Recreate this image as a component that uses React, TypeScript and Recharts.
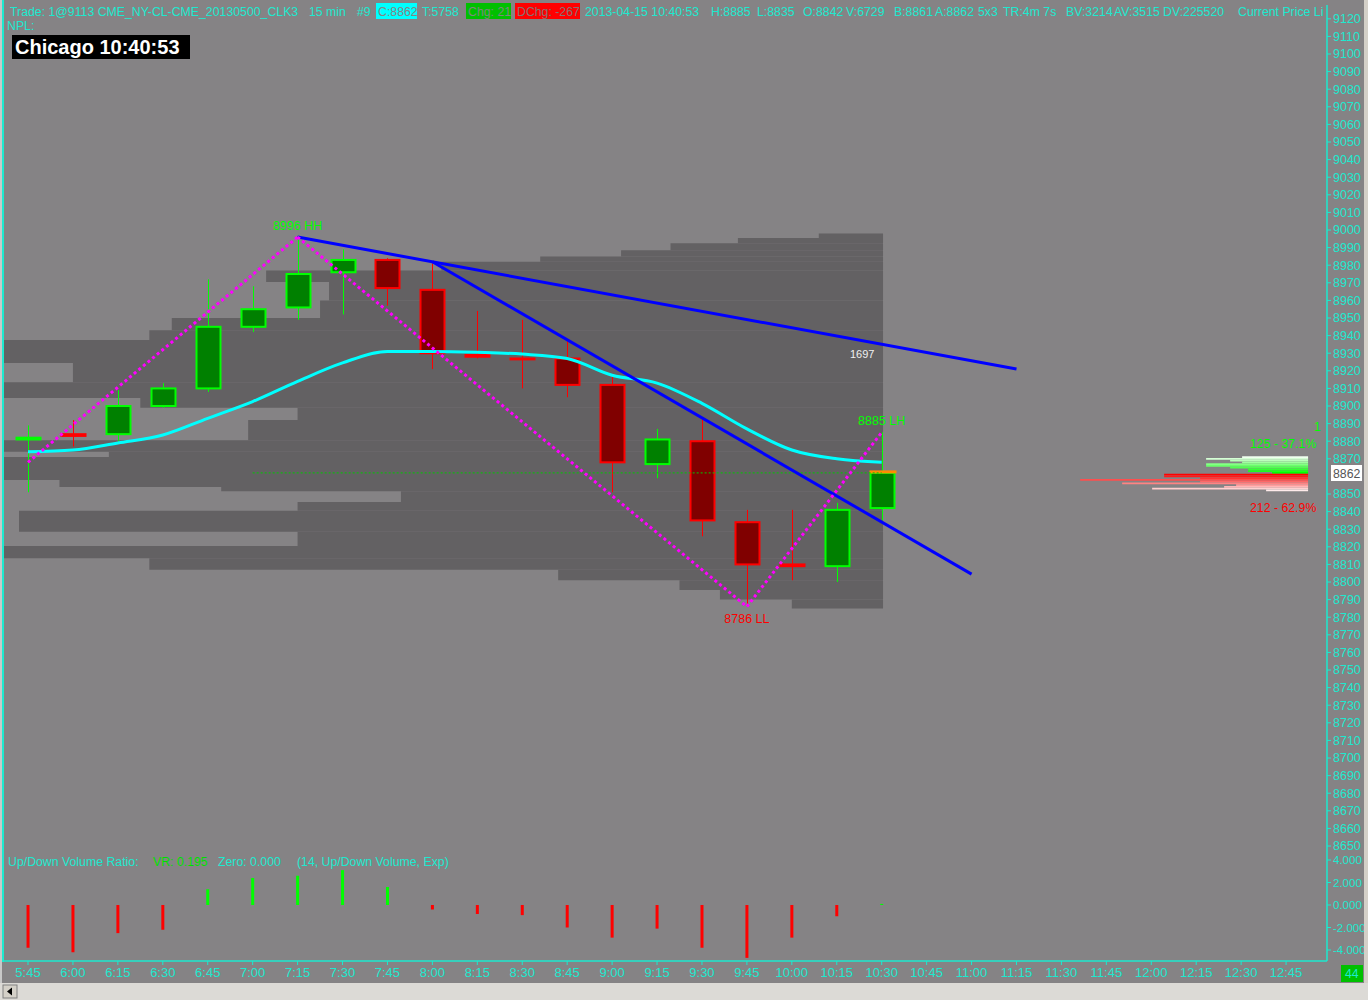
import React from 'react';
import {
  ComposedChart, Bar, Line, XAxis, YAxis, ReferenceArea, ReferenceLine, ReferenceDot, Cell,
} from 'recharts';

// 15 minute bars, CL crude, 2013-04-15
const times = ['5:45', '6:00', '6:15', '6:30', '6:45', '7:00', '7:15', '7:30', '7:45', '8:00',
  '8:15', '8:30', '8:45', '9:00', '9:15', '9:30', '9:45', '10:00', '10:15', '10:30'];
const axisTimes = [...times, '10:45', '11:00', '11:15', '11:30', '11:45', '12:00', '12:15', '12:30', '12:45'];

const opens = [8881, 8884, 8884, 8900, 8910, 8945, 8956, 8976, 8983, 8966,
  8929, 8927, 8927, 8912, 8867, 8880, 8834, 8810, 8809, 8842];
const highs = [8889, 8892, 8909, 8913, 8972, 8968, 8996, 8989, 8984, 8981,
  8954, 8949, 8937, 8917, 8887, 8893, 8841, 8841, 8845, 8885];
const lows = [8851, 8877, 8880, 8899, 8908, 8942, 8949, 8952, 8957, 8921,
  8927, 8910, 8905, 8851, 8859, 8826, 8786, 8801, 8800, 8835];
const closes = [8882, 8883, 8900, 8910, 8945, 8955, 8975, 8983, 8967, 8930,
  8928, 8926.5, 8912, 8868, 8881, 8835, 8810, 8809, 8841, 8862];

// exp. moving average
const maValues = [8874, 8875, 8879, 8883.5, 8893, 8902.5, 8914, 8924.5, 8931, 8931,
  8930.5, 8929.5, 8927, 8917.5, 8913, 8901.5, 8887, 8875, 8870, 8868];

// up/down volume ratio
const vrValues = [-3.8, -4.2, -2.5, -2.2, 1.4, 2.4, 2.6, 3.1, 1.6, -0.4,
  -0.8, -0.9, -2.0, -2.9, -2.1, -3.8, -4.7, -2.9, -1.0, 0.1];

// swing points (bar index, price)
const zigzagIdx = [0, 6, 16, 19];
const zigzagPrice = [8868, 8996, 8786, 8885];
const swingTags = ['', 'HH', 'LL', 'LH'];

// trend lines: start / end (bar index, price)
const trendStart = [[6, 8996], [9, 8982]];
const trendEnd = [[22, 8921], [21, 8804.5]];

// volume profile: band tops (price), band left start (bar index)
const profileTop = [8998, 8995.5, 8992.5, 8988.5, 8985, 8982, 8977, 8970.5, 8960, 8950,
  8943, 8937.5, 8924.5, 8913.5, 8904.5, 8899, 8892, 8880.5, 8874, 8871,
  8858, 8854, 8851.5, 8845.5, 8840.5, 8828.5, 8820.5, 8813.5, 8807, 8801, 8795.5, 8790];
const profileLeft = [17.6, 15.8, 14.3, 13.2, 11.4, 9.2, 5.3, 6.7, 6.5, 3.2,
  2.7, -0.55, 1.0, -0.55, 2.5, 6.0, 4.9, -0.55, 1.8, -0.55,
  0.7, 4.3, 8.3, 6.0, -0.2, 6.0, -0.55, 2.7, 11.8, 14.5, 15.4, 17.0];
const profileBottom = 8785;

// bid / ask volume at price
const askLevels = [8871, 8870, 8869, 8868, 8867, 8866, 8865, 8864, 8863, 8862];
const askVol = [11, 17, 13, 11, 17, 17, 13, 10, 10, 6];
const bidLevels = [8861, 8860, 8859, 8858, 8857, 8856, 8855, 8854, 8853, 8852];
const bidVol = [24, 24, 18, 38, 18, 31, 12, 14, 26, 7];

const vrTicks = [-4, -2, 0, 2, 4];

const candles = times.map((t, i) => ({
  i, t, open: opens[i], high: highs[i], low: lows[i], close: closes[i], ma: maValues[i],
}));
const vrData = times.map((t, i) => ({ i, t, vr: vrValues[i] }));

const X_MIN = -0.5564;
const X_MAX = 28.911;
const CYAN = '#1de9cf';
const FONT = "'Liberation Sans', Arial, sans-serif";
const FS = 12.3;
const LAST = candles.length - 1;
const PROFILE_RIGHT = 19.03;
const HIST_RIGHT = 28.49;
const HIST_SCALE = 0.1335; // bar index per contract

// the last-price box covers the tick next to it
const priceTicks: number[] = [];
for (let p = 8650; p <= 9120; p += 10) {
  if (Math.abs(p - closes[LAST]) > 5) priceTicks.push(p);
}

const Candle = (props: any) => {
  const { x, y, width, height, payload } = props;
  if (x == null || y == null) return null;
  const cx = Math.round(x + width / 2) + 0.5;
  const top = Math.min(y, y + height);
  const bot = Math.max(y, y + height);
  const { open, close, high, low, i } = payload;
  const span = high - low || 1;
  const py = (p: number) => top + ((high - p) / span) * (bot - top);
  const up = close >= open;
  const stroke = up ? '#00ff00' : '#ff0000';
  const fill = up ? '#008000' : '#800000';
  const bTop = py(Math.max(open, close));
  const bBot = py(Math.min(open, close));
  return (
    <g>
      <line x1={cx} x2={cx} y1={top} y2={bot} stroke={stroke} strokeWidth={1} />
      <rect x={cx - 12} y={bTop} width={24} height={Math.max(bBot - bTop, 0.5)}
        fill={fill} stroke={stroke} strokeWidth={2} />
      {i === LAST && (
        <line x1={cx - 13} x2={cx + 14} y1={bTop - 1} y2={bTop - 1} stroke="#ff8c00" strokeWidth={3} />
      )}
    </g>
  );
};

const rampGreen = (k: number, n: number) => {
  const v = Math.round(240 * (1 - k / (n - 1)));
  return `rgb(${v},255,${v})`;
};
const rampRed = (k: number, n: number) => {
  const v = Math.round(235 * (k / (n - 1)));
  return `rgb(255,${v},${v})`;
};

const T = ({ x, y, c = CYAN, s = FS, children, w = 'normal' }: any) => (
  <text x={x} y={y} fill={c} fontSize={s} fontFamily={FONT} fontWeight={w} style={{ whiteSpace: 'pre' }}>
    {children}
  </text>
);

export default function App() {
  const zigSegments = zigzagIdx.slice(1).map((_, k) => [
    { x: zigzagIdx[k], y: zigzagPrice[k] },
    { x: zigzagIdx[k + 1], y: zigzagPrice[k + 1] },
  ]);
  const lastClose = closes[LAST];

  return (
    <div style={{ position: 'absolute', left: 0, top: 0, width: 1368, height: 1000, background: '#858385', overflow: 'hidden' }}>
      <div style={{ position: 'absolute', left: 0, top: 0 }}>
        <ComposedChart width={1368} height={855} data={candles} margin={{ top: 5, right: 0, left: 3, bottom: 0 }}>
          <XAxis type="number" dataKey="i" domain={[X_MIN, X_MAX]} allowDataOverflow hide />
          <YAxis
            orientation="right" width={41} type="number" domain={[8644.9, 9127.84]} allowDataOverflow
            ticks={priceTicks} interval={0} tickSize={4} tickMargin={2}
            axisLine={{ stroke: CYAN, strokeWidth: 1.5 }} tickLine={{ stroke: CYAN }}
            tick={{ fill: CYAN, fontSize: 12.5, fontFamily: FONT, textAnchor: 'start' }}
          />
          {profileTop.map((top, k) => (
            <ReferenceArea key={`pf${k}`} x1={profileLeft[k]} x2={PROFILE_RIGHT}
              y1={k + 1 < profileTop.length ? profileTop[k + 1] : profileBottom} y2={top}
              fill="#636163" fillOpacity={1} stroke="none" ifOverflow="visible" />
          ))}
          {askLevels.map((p, k) => (
            <ReferenceArea key={`ask${k}`} x1={HIST_RIGHT - askVol[k] * HIST_SCALE} x2={HIST_RIGHT}
              y1={p - 0.5} y2={p + 0.5} fill={rampGreen(k, askLevels.length)} fillOpacity={1} stroke="none" ifOverflow="visible" />
          ))}
          {bidLevels.map((p, k) => (
            <ReferenceArea key={`bid${k}`} x1={HIST_RIGHT - bidVol[k] * HIST_SCALE} x2={HIST_RIGHT}
              y1={p - 0.5} y2={p + 0.5} fill={rampRed(k, bidLevels.length)} fillOpacity={1} stroke="none" ifOverflow="visible" />
          ))}
          <ReferenceLine segment={[{ x: 5, y: lastClose }, { x: 19, y: lastClose }]}
            stroke="#00c800" strokeDasharray="2 2" strokeWidth={1} ifOverflow="visible" />
          <Bar dataKey={(d: any) => [d.low, d.high]} barSize={27} shape={<Candle />} isAnimationActive={false} />
          <Line dataKey="ma" type="monotone" stroke="#00ffff" strokeWidth={3} dot={false} isAnimationActive={false} />
          {trendStart.map((s, k) => (
            <ReferenceLine key={`tl${k}`} segment={[{ x: s[0], y: s[1] }, { x: trendEnd[k][0], y: trendEnd[k][1] }]}
              stroke="#0000ff" strokeWidth={3} ifOverflow="visible" />
          ))}
          {zigSegments.map((seg, k) => (
            <ReferenceLine key={`zz${k}`} segment={seg} stroke="#ff00ff" strokeWidth={3}
              strokeDasharray="3 3" ifOverflow="visible" />
          ))}
          {zigzagIdx.slice(1).map((ix, k) => (
            <ReferenceDot key={`sw${k}`} x={ix} y={zigzagPrice[k + 1]} r={0} fill="none" stroke="none" ifOverflow="visible"
              label={{
                value: `${zigzagPrice[k + 1]} ${swingTags[k + 1]}`,
                position: swingTags[k + 1] === 'LL' ? 'bottom' : 'top',
                fill: swingTags[k + 1] === 'LL' ? '#ff0000' : '#00ff00',
                fontSize: 12.5, fontFamily: FONT, offset: 7,
              }} />
          ))}
        </ComposedChart>
      </div>

      <div style={{ position: 'absolute', left: 0, top: 855 }}>
        <ComposedChart width={1368} height={128} data={vrData} margin={{ top: 0, right: 0, left: 3, bottom: 0 }}>
          <XAxis
            type="number" dataKey="i" domain={[X_MIN, X_MAX]} allowDataOverflow height={22}
            ticks={axisTimes.map((_, k) => k)} interval={0}
            tickFormatter={(v: number) => axisTimes[v] ?? ''}
            tickSize={4} tickMargin={3}
            axisLine={{ stroke: CYAN, strokeWidth: 1.5 }} tickLine={{ stroke: CYAN }}
            tick={{ fill: CYAN, fontSize: 13, fontFamily: FONT }}
          />
          <YAxis
            orientation="right" width={41} type="number" domain={[-4.978, 4.444]} allowDataOverflow
            ticks={vrTicks} interval={0} tickSize={4} tickMargin={2}
            tickFormatter={(v: number) => v.toFixed(3)}
            axisLine={{ stroke: CYAN, strokeWidth: 1.5 }} tickLine={{ stroke: CYAN }}
            tick={{ fill: CYAN, fontSize: 11.5, fontFamily: FONT, textAnchor: 'start' }}
          />
          <Bar dataKey="vr" barSize={3} isAnimationActive={false}>
            {vrData.map((d, k) => (
              <Cell key={k} fill={d.vr >= 0 ? '#00ff00' : '#ff0000'} />
            ))}
          </Bar>
        </ComposedChart>
      </div>

      <svg width={1368} height={1000} style={{ position: 'absolute', left: 0, top: 0, pointerEvents: 'none' }}>
        {/* header */}
        <T x={10} y={16}>Trade: 1@9113 CME_NY-CL-CME_20130500_CLK3</T>
        <T x={309} y={16}>15 min</T>
        <T x={357} y={16}>#9</T>
        <rect x={376} y={3} width={41} height={16} fill="#00ffff" />
        <T x={378} y={16} c="#858385">C:8862</T>
        <T x={422} y={16}>T:5758</T>
        <rect x={466} y={3} width={45} height={16} fill="#00c000" />
        <T x={468} y={16} c="#7a8a7a">Chg: 21</T>
        <rect x={515} y={3} width={65} height={16} fill="#ff0000" />
        <T x={517} y={16} c="#8a7070">DChg: -267</T>
        <T x={585} y={16}>2013-04-15 10:40:53</T>
        <T x={711} y={16}>H:8885</T>
        <T x={757} y={16}>L:8835</T>
        <T x={803} y={16}>O:8842</T>
        <T x={846} y={16}>V:6729</T>
        <T x={894} y={16}>B:8861</T>
        <T x={935} y={16}>A:8862</T>
        <T x={978} y={16}>5x3</T>
        <T x={1003} y={16}>TR:4m 7s</T>
        <T x={1066} y={16}>BV:3214</T>
        <T x={1114} y={16}>AV:3515</T>
        <T x={1163} y={16}>DV:225520</T>
        <T x={1238} y={16}>Current Price Li</T>
        <T x={7} y={30}>NPL:</T>
        <rect x={12} y={35} width={178} height={24} fill="#000" />
        <T x={15} y={54} c="#fff" s={20} w="bold">Chicago 10:40:53</T>

        <T x={850} y={358} c="#f0f0f0" s={11}>1697</T>

        {/* right side volume at price labels */}
        <T x={1314} y={431} c="#00ff00">1</T>
        <T x={1250} y={448} c="#00ff00">125 - 37.1%</T>
        <T x={1250} y={512} c="#ff0000">212 - 62.9%</T>
        <rect x={1331} y={465} width={31} height={16} fill="#ffffff" />
        <T x={1333} y={478} c="#555">8862</T>

        {/* lower panel label */}
        <T x={8} y={866}>Up/Down Volume Ratio:</T>
        <T x={153} y={866} c="#00e000">VR: 0.195</T>
        <T x={218} y={866}>Zero: 0.000</T>
        <T x={297} y={866}>(14, Up/Down Volume, Exp)</T>

        <rect x={1341} y={965} width={22} height={17} fill="#00c000" />
        <T x={1345} y={978}>44</T>

        {/* frame */}
        <rect x={0} y={0} width={2} height={983} fill="#c8c8c8" />
        <rect x={2} y={0} width={2} height={962} fill={CYAN} />
        <rect x={1364} y={0} width={4} height={1000} fill="#d4d0c8" />
        <rect x={0} y={983} width={1368} height={17} fill="#dcdad6" />
        <rect x={3} y={985} width={14} height={13} fill="#d4d0c8" stroke="#808080" strokeWidth={1} />
        <path d="M12 987.5 L7 991.5 L12 995.5 Z" fill="#000" />
      </svg>
    </div>
  );
}
